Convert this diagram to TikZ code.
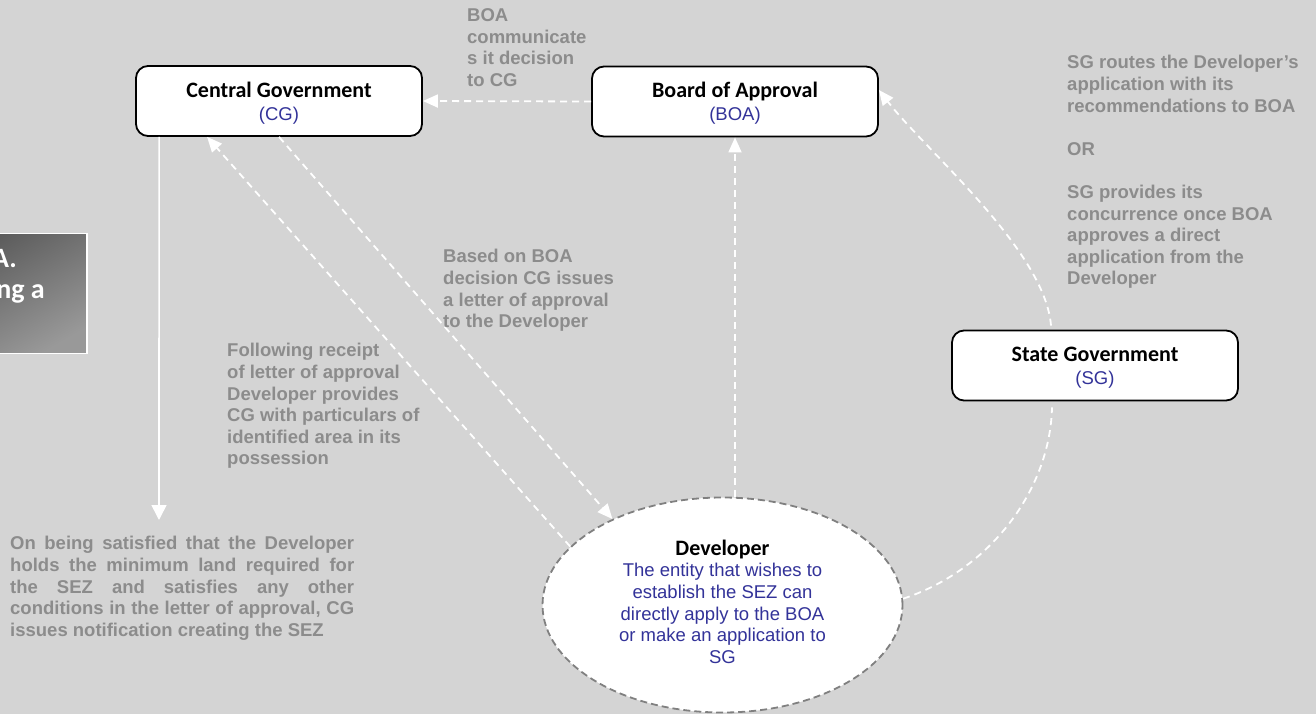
\documentclass[tikz,border=0pt]{standalone}
\usepackage{fontspec}
\setmainfont{Liberation Sans}
\newfontfamily\carl{Carlito}
\usetikzlibrary{arrows.meta,shapes.geometric,calc}
\definecolor{bgc}{RGB}{212,212,212}
\definecolor{lbl}{RGB}{140,140,140}
\definecolor{sub}{RGB}{51,51,153}
\definecolor{devb}{RGB}{128,128,128}
\begin{document}
\begin{tikzpicture}[x=1pt,y=-1pt,
  entity/.style={draw=black,line width=1.8pt,fill=white,rounded corners=12pt,
    minimum width=286pt,minimum height=70pt,inner sep=0pt,align=center,
    text depth=0pt,font=\fontsize{18.5}{22.6}\selectfont},
  flow/.style={draw=white,line width=1.8pt,dash pattern=on 7pt off 5pt,
    -{Triangle[length=15pt,width=13pt,fill=white]}},
  plainflow/.style={draw=white,line width=1.8pt,dash pattern=on 7pt off 5pt},
  solidflow/.style={draw=white,line width=1.6pt,-{Triangle[length=15pt,width=15pt,fill=white]}},
  note/.style={text=lbl,font=\bfseries\fontsize{18.5}{21.6}\selectfont,align=left,
    anchor=north west,inner sep=0pt},
]
\useasboundingbox (0,0) rectangle (1316,714);
\fill[bgc] (0,0) rectangle (1316,714);

% left cut-off title box
\node[draw=white,line width=1.5pt,inner sep=0pt,minimum width=130pt,minimum height=120pt,
  shading=axis,top color=black!64,bottom color=black!40,shading angle=30] (lbox) at (22,293.5) {};
\node[anchor=base east,inner sep=0pt,text=white,font=\carl\bfseries\fontsize{28}{31}\selectfont] (la) at (17,267) {A.};
\node[anchor=base east,inner sep=0pt,text=white,font=\carl\bfseries\fontsize{28}{31}\selectfont] (lb) at (45,298) {ng a};

% entities
\node[entity] (CG) at (279,101) {{\carl\bfseries\fontsize{22}{22.6}\selectfont Central Government}\\\textcolor{sub}{(CG)}};
\node[entity] (BOA) at (735,101.5) {{\carl\bfseries\fontsize{22}{22.6}\selectfont Board of Approval}\\\textcolor{sub}{(BOA)}};
\node[entity] (SG) at (1095,365.5) {{\carl\bfseries\fontsize{22}{22.6}\selectfont State Government}\\\textcolor{sub}{(SG)}};

\node[ellipse,draw=devb,dash pattern=on 7pt off 4pt,line width=1.8pt,fill=white,
  minimum width=360pt,minimum height=215pt,inner sep=0pt,align=center,text=sub,
  text depth=7pt,font=\fontsize{18.5}{21.6}\selectfont] (Dev) at (722.5,605)
  {\textcolor{black}{\carl\bfseries\fontsize{22}{22}\selectfont Developer}\\The entity that wishes to\\establish the SEZ can\\directly apply to the BOA\\or make an application to\\SG};

\coordinate (notif) at (159,520);

% connectors
\draw[flow] (BOA.west) -- (CG.east);
\draw[flow] (Dev.159) -- ([xshift=72pt]CG.south west);
\draw[flow] (CG.south) -- (Dev.142);
\draw[flow] (BOA.south |- Dev.north) -- (BOA.south);
\draw[plainflow] (Dev.2) .. controls (990,570) and (1050,490) .. ([xshift=-43pt,yshift=-6pt]SG.south);
\draw[flow] ([xshift=-44pt,yshift=4pt]SG.north) .. controls (1045,250) and (925,150) .. ([yshift=11.5pt]BOA.east);
\draw[solidflow] ([xshift=24pt]CG.south west) -- (notif);

% labels
\node[note] (n1) at (467,8.3) {BOA\\communicate\\s it decision\\to CG};
\node[note] (n2) at (443,249.3) {Based on BOA\\decision CG issues\\a letter of approval\\to the Developer};
\node[note] (n3) at (227,343.3) {Following receipt\\of letter of approval\\Developer provides\\CG with particulars of\\identified area in its\\possession};
\node[note] (n4) at (1067,55.3) {SG routes the Developer’s\\application with its\\recommendations to BOA\\[21.6pt]OR\\[21.6pt]SG provides its\\concurrence once BOA\\approves a direct\\application from the\\Developer};
\node[note,text width=344pt,align=justify] (n5) at (10,536.3) {On being satisfied that the Developer\linebreak holds the minimum land required for\linebreak the SEZ and satisfies any other\linebreak conditions in the letter of approval, CG\linebreak issues notification creating the SEZ};
\end{tikzpicture}
\end{document}
